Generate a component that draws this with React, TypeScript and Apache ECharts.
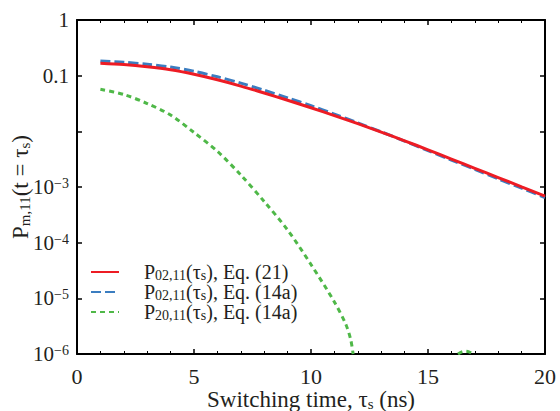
import React, { useEffect, useRef } from 'react';
import * as echarts from 'echarts';

// ---- data ----
const timeNs = [1, 2, 3, 4, 5, 6, 7, 8, 9, 10, 11, 12, 13, 14, 15, 16, 17, 18, 19, 20];
const p0211Eq21 = [0.1668, 0.158, 0.1443, 0.1274, 0.1058, 0.0843, 0.065, 0.0488, 0.0361, 0.0265, 0.0192, 0.01372, 0.00969, 0.00676, 0.00466, 0.00318, 0.00217, 0.00148, 0.001005, 0.000684];
const p0211Eq14a = [0.1835, 0.1746, 0.16, 0.1427, 0.1198, 0.0954, 0.0736, 0.0547, 0.04, 0.0288, 0.0204, 0.01419, 0.00981, 0.00668, 0.00451, 0.00305, 0.00207, 0.0014, 0.000953, 0.000648];
const p2011Time = [1, 2, 3, 4, 5, 6, 7, 8, 9, 10, 11, 11.5, 11.7, 11.8, 12, 16.2, 16.28, 16.45, 16.6, 16.75, 16.92, 17, 20];
const p2011Eq14a = [0.0569, 0.0459, 0.0316, 0.01966, 0.00953, 0.00438, 0.001643, 0.000549, 0.000169, 0.0000405, 0.0000086, 0.00000332, 0.00000179, 0.000001, null, null, 0.000001, 0.00000109, 0.00000112, 0.00000109, 0.000001, null, null];

const seriesNames = ['P02,11(τs), Eq. (21)', 'P02,11(τs), Eq. (14a)', 'P20,11(τs), Eq. (14a)'];
const legendSubs = ['02,11', '02,11', '20,11'];
const legendEqs = ['Eq. (21)', 'Eq. (14a)', 'Eq. (14a)'];
const yTickLabels: Record<number, string> = { 0: '1', [-1]: '0.1', [-2]: '' };

const FONT = '"Liberation Serif", "Times New Roman", serif';
const INK = '#231f20';

export default function App() {
  const ref = useRef<HTMLDivElement>(null);
  useEffect(() => {
    if (!ref.current) return;
    const chart = echarts.init(ref.current, null, { renderer: 'svg' });
    const pair = (xs: number[], ys: (number | null)[]) => xs.map((x, i) => [x, ys[i] === null ? '-' : ys[i]]);
    const rich = (big: number, small: number) => ({
      n: { fontFamily: FONT, fontSize: big, color: INK, lineHeight: big },
      s: { fontFamily: FONT, fontSize: small, color: INK, lineHeight: 6, verticalAlign: 'bottom' },
      e: { fontFamily: FONT, fontSize: small, color: INK, lineHeight: 5, verticalAlign: 'top' },
      g: { width: 20, lineHeight: big },
    });
    const xCommon = {
      type: 'value', min: 0, max: 20, interval: 5,
      axisLine: { show: true, onZero: false, lineStyle: { color: '#000', width: 2 } },
      axisTick: { show: true, inside: true, length: 5, lineStyle: { color: '#000', width: 1.5 } },
      minorTick: { show: true, splitNumber: 5, length: 3, lineStyle: { color: '#000', width: 1 } },
      splitLine: { show: false },
      minorSplitLine: { show: false },
    };
    const yCommon = {
      type: 'log', logBase: 10, min: 0.000001, max: 1, splitNumber: 6,
      axisLine: { show: true, onZero: false, lineStyle: { color: '#000', width: 2 } },
      axisTick: { show: true, inside: true, length: 5, lineStyle: { color: '#000', width: 1.5 } },
      splitLine: { show: false },
    };
    chart.setOption({
      animation: false,
      backgroundColor: '#fff',
      grid: { left: 77, right: 15, top: 20, bottom: 57, containLabel: false, outerBoundsMode: 'none' },
      legend: {
        orient: 'vertical', left: 90, top: 262, padding: 0, itemGap: 0,
        itemWidth: 28, itemHeight: 14,
        data: seriesNames,
        itemStyle: { opacity: 0 },
        formatter: (name: string) => {
          const i = seriesNames.indexOf(name);
          return `{g|}{n|P}{s|${legendSubs[i]}}{n|(τ}{s|s}{n|), ${legendEqs[i]}}`;
        },
        textStyle: { fontFamily: FONT, fontSize: 20, color: INK, lineHeight: 21, rich: rich(20, 14) },
      },
      xAxis: [
        {
          ...xCommon, position: 'bottom',
          axisLabel: { show: true, margin: 11, fontFamily: FONT, fontSize: 22, color: INK },
          name: '{n|Switching time, τ}{s|s}{n| (ns)}',
          nameLocation: 'middle', nameGap: 34, nameMoveOverlap: false,
          nameTextStyle: { fontFamily: FONT, fontSize: 23, color: INK, rich: rich(23, 15) },
        },
        { ...xCommon, position: 'top', axisLabel: { show: false } },
      ],
      yAxis: [
        {
          ...yCommon, position: 'left',
          axisLabel: {
            show: true, margin: 8, fontFamily: FONT, fontSize: 21, color: INK,
            formatter: (v: number) => {
              const ex = Math.round(Math.log10(v));
              if (ex in yTickLabels) return yTickLabels[ex] === '' ? '' : `{n|${yTickLabels[ex]}}`;
              return `{n|10}{e|−${-ex}}`;
            },
            rich: rich(21, 14),
          },
          name: '{n|P}{s|m,11}{n|(t = τ}{s|s}{n|)}',
          nameLocation: 'middle', nameGap: 45, nameRotate: 90, nameMoveOverlap: false,
          nameTextStyle: { fontFamily: FONT, fontSize: 23, color: INK, rich: rich(23, 15) },
        },
        { ...yCommon, position: 'right', axisLabel: { show: false } },
      ],
      series: [
        {
          name: seriesNames[0], type: 'line', symbol: 'none', smooth: 0.3, clip: true,
          data: pair(timeNs, p0211Eq21),
          lineStyle: { color: '#ed1c24', width: 3, type: 'solid' },
          itemStyle: { color: '#ed1c24' }, z: 3,
        },
        {
          name: seriesNames[1], type: 'line', symbol: 'none', smooth: 0.3, clip: true,
          data: pair(timeNs, p0211Eq14a),
          lineStyle: { color: '#3b7dc0', width: 3, type: [10, 4] },
          itemStyle: { color: '#3b7dc0' }, z: 2,
        },
        {
          name: seriesNames[2], type: 'line', symbol: 'none', smooth: 0.3, clip: true, connectNulls: false,
          data: pair(p2011Time, p2011Eq14a),
          lineStyle: { color: '#4fb848', width: 3, type: [5, 4] },
          itemStyle: { color: '#4fb848' }, z: 2,
        },
      ],
    });
    return () => chart.dispose();
  }, []);
  return <div ref={ref} style={{ position: 'fixed', left: 0, top: 0, width: 560, height: 411 }} />;
}
